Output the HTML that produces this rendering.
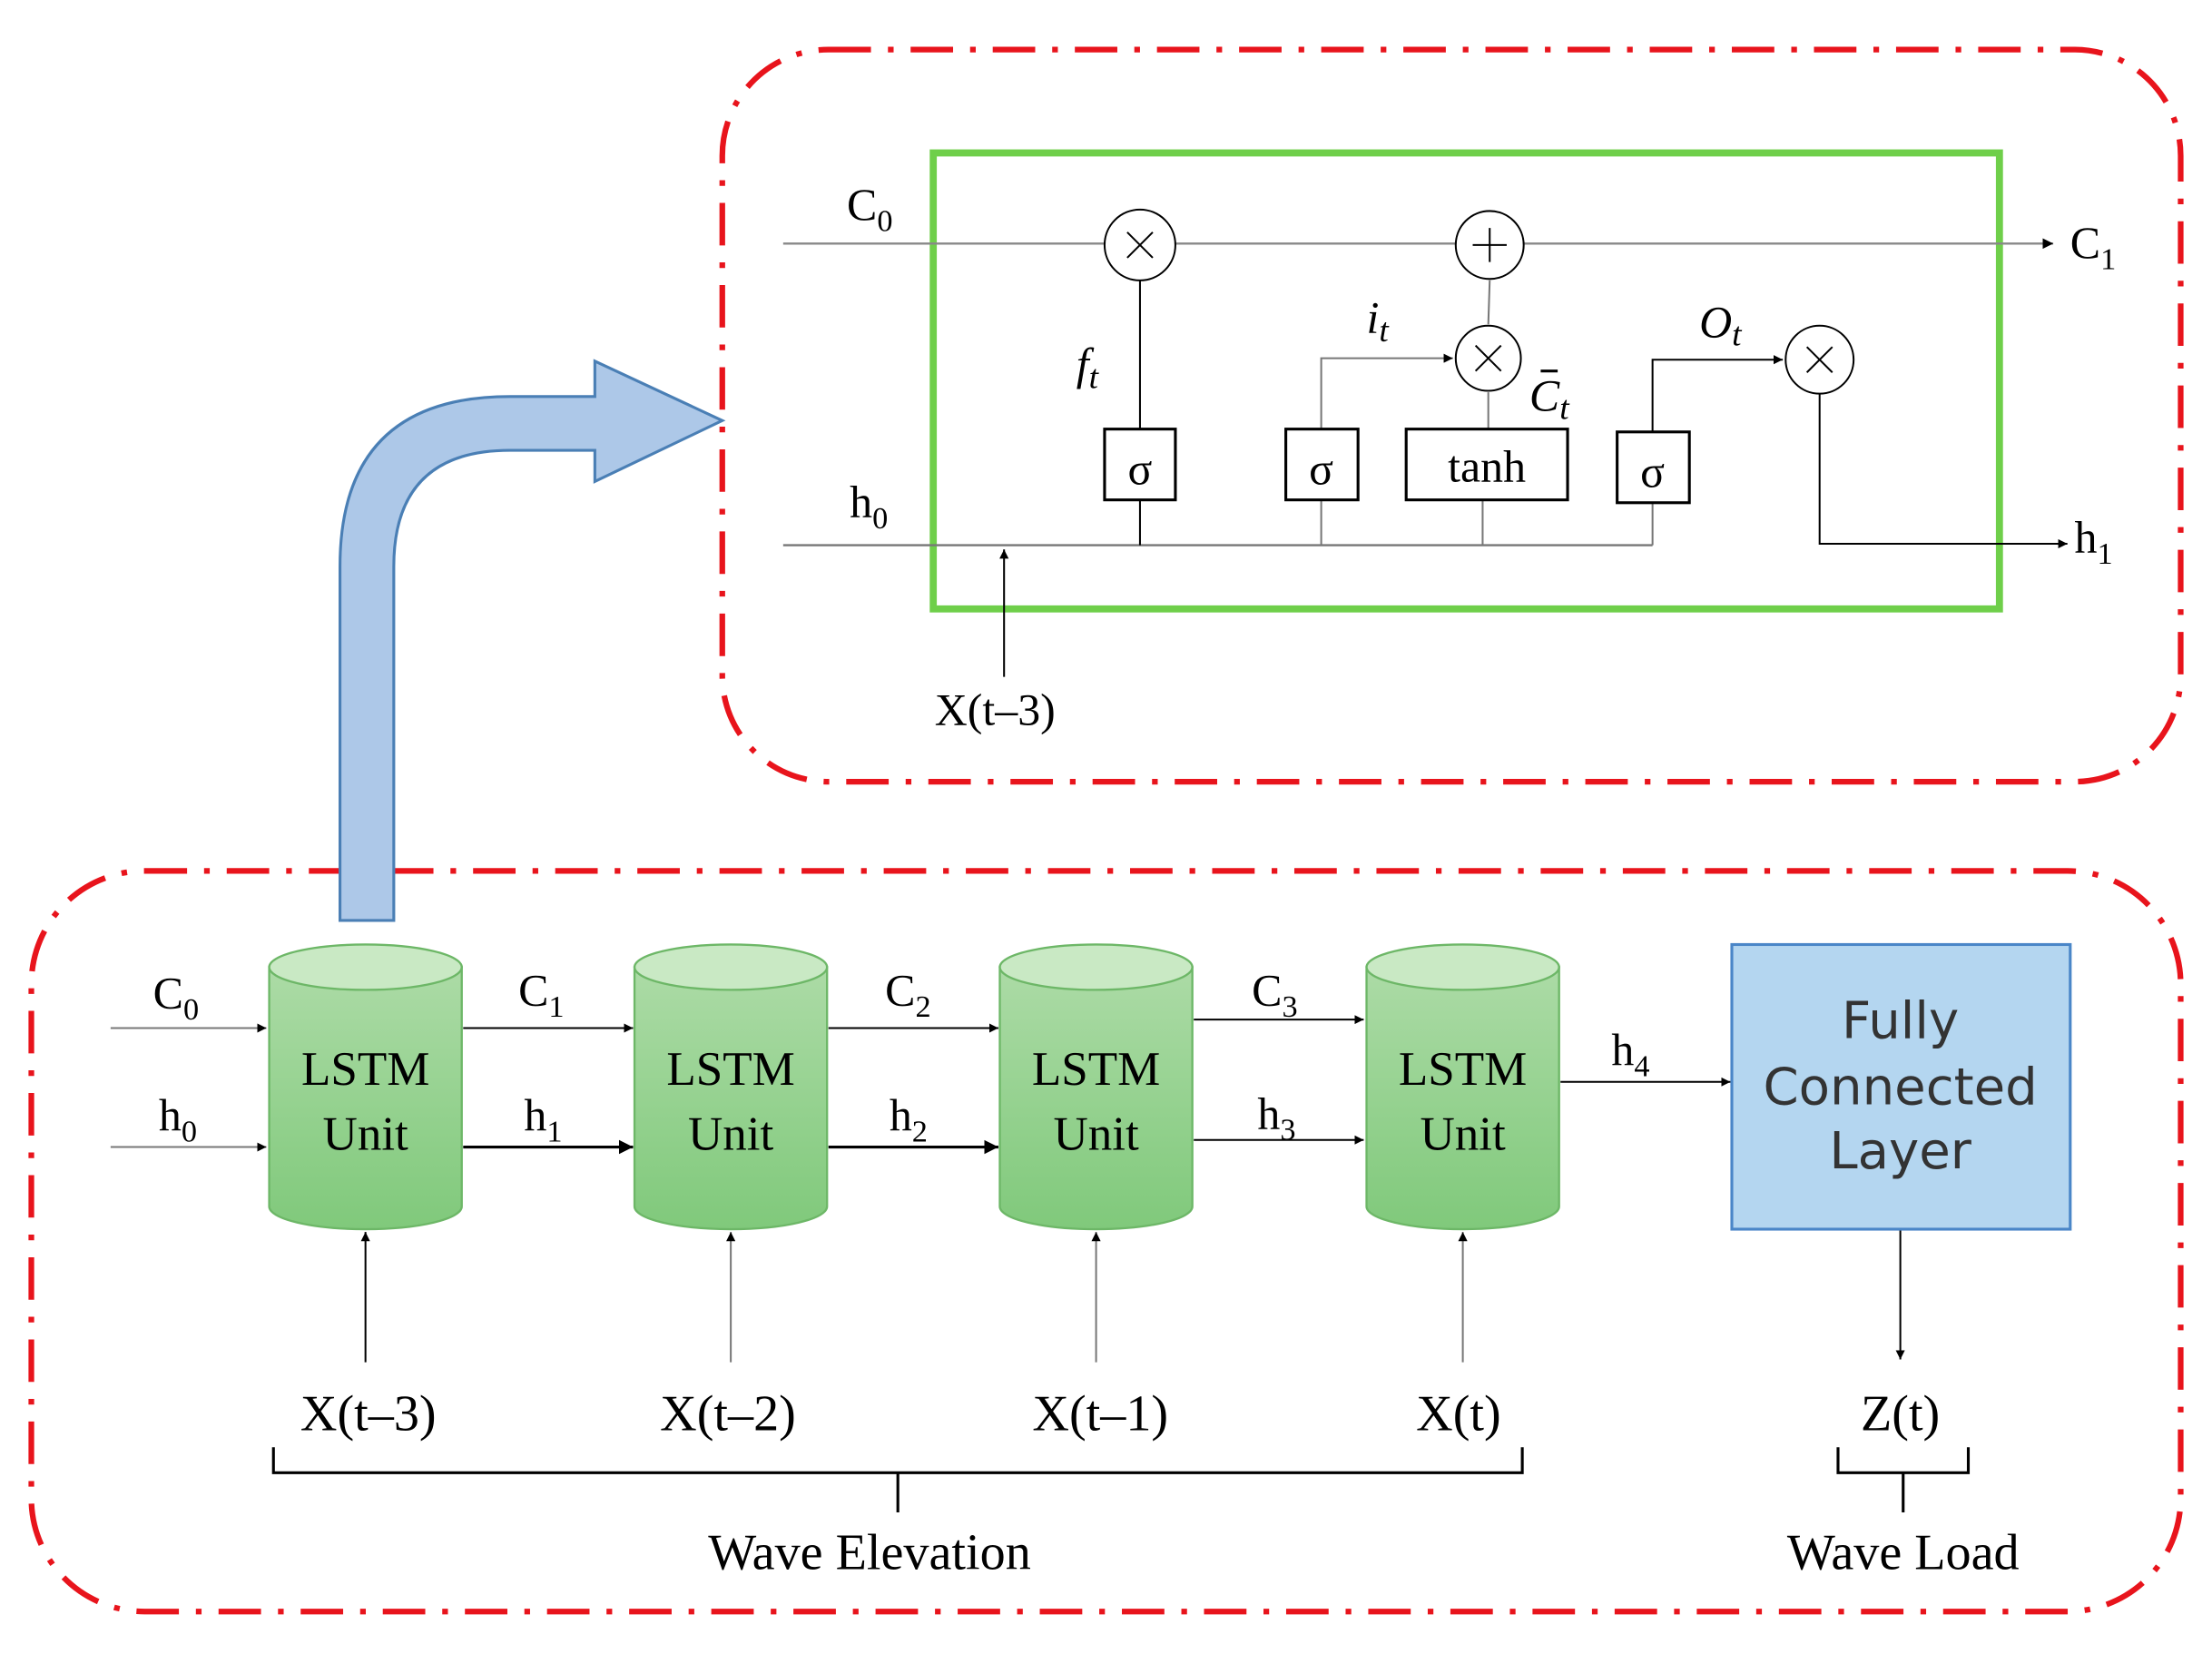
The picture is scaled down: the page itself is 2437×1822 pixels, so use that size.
<!DOCTYPE html>
<html><head><meta charset="utf-8"><style>html,body{margin:0;padding:0;background:#fff}svg{display:block}</style></head>
<body>
<svg width="2437" height="1822" viewBox="0 0 1562 1168" xmlns="http://www.w3.org/2000/svg">
<defs>
<marker id="a" viewBox="0 0 10 10" refX="10" refY="5" markerWidth="5" markerHeight="5" orient="auto"><path d="M0,0L10,5L0,10Z" fill="#000"/></marker>
<linearGradient id="g" x1="0" y1="0" x2="0" y2="1"><stop offset="0" stop-color="#acdba6"/><stop offset="1" stop-color="#80c97b"/></linearGradient>
<g id="cyl">
<path d="M-68,683 L-68,852 A68,16 0 0 0 68,852 L68,683 Z" fill="url(#g)" stroke="#6db767" stroke-width="1.5"/>
<ellipse cx="0" cy="683" rx="68" ry="16" fill="#c9e9c4" stroke="#6db767" stroke-width="1.5"/>
<text x="0" y="766" font-size="34" text-anchor="middle" font-family="Liberation Serif,serif">LSTM</text>
<text x="0" y="812" font-size="34" text-anchor="middle" font-family="Liberation Serif,serif">Unit</text>
</g>
</defs>
<g fill="none" stroke="#e8141c" stroke-width="4" stroke-dasharray="30 12 4 12">
<rect x="510" y="35" width="1030" height="517" rx="75"/>
<rect x="22" y="615" width="1518" height="523" rx="80"/>
</g>
<path d="M240,650 L240,400 Q240,280 360,280 L420,280 L420,255 L510,297 L420,340 L420,318 L360,318 Q278,318 278,400 L278,650 Z" fill="#adc8e8" stroke="#4a7fb5" stroke-width="2"/>
<rect x="659" y="108" width="753" height="322" fill="none" stroke="#6fcf4a" stroke-width="5"/>
<g font-family="Liberation Serif,serif" font-size="32" fill="#000">
<line x1="553" y1="172" x2="1450" y2="172" stroke="#888" stroke-width="1.5" marker-end="url(#a)"/>
<line x1="553" y1="385" x2="1167" y2="385" stroke="#777" stroke-width="1.5"/>
<g stroke="#000" stroke-width="1.3" fill="none">
<line x1="805" y1="198" x2="805" y2="303"/>
<line x1="805" y1="353" x2="805" y2="385"/>
<polyline points="933,303 933,253 1026,253" marker-end="url(#a)" stroke="#777"/>
<line x1="933" y1="353" x2="933" y2="385" stroke="#777"/>
<line x1="1051" y1="229" x2="1052" y2="198" stroke="#777"/>
<line x1="1051" y1="277" x2="1051" y2="303" stroke="#777"/>
<line x1="1047" y1="353" x2="1047" y2="385" stroke="#777"/>
<polyline points="1167,305 1167,254 1259,254" marker-end="url(#a)"/>
<line x1="1167" y1="355" x2="1167" y2="385" stroke="#777"/>
<polyline points="1285,278 1285,384 1460,384" marker-end="url(#a)"/>
<line x1="709" y1="478" x2="709" y2="388" marker-end="url(#a)"/>
<circle cx="805" cy="173" r="25" fill="#fff"/><circle cx="1052" cy="173" r="24" fill="#fff"/>
<circle cx="1051" cy="253" r="23" fill="#fff"/><circle cx="1285" cy="254" r="24" fill="#fff"/>
<path d="M796,164L814,182M814,164L796,182M1042,244L1060,262M1060,244L1042,262M1276,245L1294,263M1294,245L1276,263M1040,173H1064M1052,161V185"/>
<rect x="780" y="303" width="50" height="50" fill="#fff" stroke-width="2"/>
<rect x="908" y="303" width="51" height="50" fill="#fff" stroke-width="2"/>
<rect x="993" y="303" width="114" height="50" fill="#fff" stroke-width="2"/>
<rect x="1142" y="305" width="51" height="50" fill="#fff" stroke-width="2"/>
</g>
<text x="805" y="342" text-anchor="middle">σ</text><text x="933" y="342" text-anchor="middle">σ</text>
<text x="1050" y="340" text-anchor="middle">tanh</text><text x="1167" y="344" text-anchor="middle">σ</text>
<text x="598" y="155">C<tspan font-size="22" dy="8">0</tspan></text>
<text x="600" y="365">h<tspan font-size="22" dy="8">0</tspan></text>
<text x="1462" y="182">C<tspan font-size="22" dy="8">1</tspan></text>
<text x="1465" y="390">h<tspan font-size="22" dy="8">1</tspan></text>
<text x="760" y="268" font-style="italic">f<tspan font-size="24" dy="6">t</tspan></text>
<text x="965" y="235" font-style="italic">i<tspan font-size="24" dy="6">t</tspan></text>
<text x="1200" y="238" font-style="italic">O<tspan font-size="24" dy="6">t</tspan></text>
<text x="1080" y="290" font-style="italic">C<tspan font-size="24" dy="6">t</tspan></text>
<line x1="1088" y1="262" x2="1100" y2="262" stroke="#000" stroke-width="2"/>
<text x="660" y="512">X(t–3)</text>

<use href="#cyl" x="258"/><use href="#cyl" x="516"/><use href="#cyl" x="774"/><use href="#cyl" x="1033"/>
<g stroke="#000" stroke-width="1.3" fill="none">
<line x1="78" y1="726" x2="188" y2="726" stroke="#777" marker-end="url(#a)"/>
<line x1="78" y1="810" x2="188" y2="810" stroke="#777" marker-end="url(#a)"/>
<line x1="327" y1="726" x2="447" y2="726" marker-end="url(#a)"/>
<line x1="327" y1="810" x2="447" y2="810" stroke-width="2" marker-end="url(#a)"/>
<line x1="585" y1="726" x2="705" y2="726" marker-end="url(#a)"/>
<line x1="585" y1="810" x2="705" y2="810" stroke-width="2" marker-end="url(#a)"/>
<line x1="843" y1="720" x2="963" y2="720" marker-end="url(#a)"/>
<line x1="843" y1="805" x2="963" y2="805" marker-end="url(#a)"/>
<line x1="1102" y1="764" x2="1222" y2="764" marker-end="url(#a)"/>
<line x1="258" y1="962" x2="258" y2="870" marker-end="url(#a)"/>
<line x1="516" y1="962" x2="516" y2="870" stroke="#777" marker-end="url(#a)"/>
<line x1="774" y1="962" x2="774" y2="870" stroke="#777" marker-end="url(#a)"/>
<line x1="1033" y1="962" x2="1033" y2="870" stroke="#777" marker-end="url(#a)"/>
<line x1="1342" y1="868" x2="1342" y2="960" marker-end="url(#a)"/>
<path d="M193,1022 V1040 H634 V1068 M634,1040 H1075 V1022" stroke-width="2"/>
<path d="M1298,1022 V1040 H1344 V1068 M1344,1040 H1390 V1022" stroke-width="2"/>
</g>
<rect x="1223" y="667" width="239" height="201" fill="#b4d6f0" stroke="#4a86c8" stroke-width="2"/>
<g font-family="DejaVu Sans,Liberation Sans,sans-serif" font-size="36" fill="#333" text-anchor="middle">
<text x="1342" y="733">Fully</text><text x="1342" y="780">Connected</text><text x="1342" y="825">Layer</text>
</g>
<text x="108" y="712">C<tspan font-size="22" dy="8">0</tspan></text>
<text x="112" y="798">h<tspan font-size="22" dy="8">0</tspan></text>
<text x="366" y="710">C<tspan font-size="22" dy="8">1</tspan></text>
<text x="370" y="798">h<tspan font-size="22" dy="8">1</tspan></text>
<text x="625" y="710">C<tspan font-size="22" dy="8">2</tspan></text>
<text x="628" y="798">h<tspan font-size="22" dy="8">2</tspan></text>
<text x="884" y="710">C<tspan font-size="22" dy="8">3</tspan></text>
<text x="888" y="797">h<tspan font-size="22" dy="8">3</tspan></text>
<text x="1138" y="752">h<tspan font-size="22" dy="8">4</tspan></text>
<g font-size="36" text-anchor="middle">
<text x="260" y="1010">X(t–3)</text><text x="514" y="1010">X(t–2)</text><text x="777" y="1010">X(t–1)</text>
<text x="1030" y="1010">X(t)</text><text x="1342" y="1010">Z(t)</text>
<text x="614" y="1108">Wave Elevation</text><text x="1344" y="1108">Wave Load</text>
</g>
</g>
</svg>
</body></html>
